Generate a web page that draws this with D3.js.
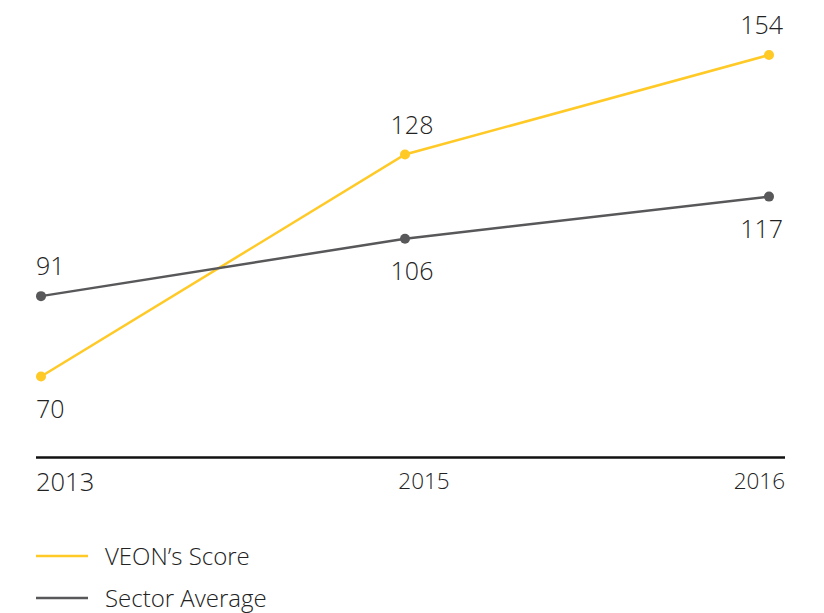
<!DOCTYPE html>
<html>
<head>
<meta charset="utf-8">
<script src="https://d3js.org/d3.v7.min.js"></script>
<style>
  body { margin: 0; background: #fff; }
  text { font-family: "Open Sans", sans-serif; font-weight: 300; fill: #222; }
</style>
</head>
<body>
<svg id="chart" width="824" height="613"></svg>
<script>
// data
const years = ["2013", "2015", "2016"];
const veonScore = [70, 128, 154];
const sectorAvg = [91, 106, 117];
const seriesNames = ["VEON\u2019s Score", "Sector Average"];
const seriesColors = ["#FFC926", "#58585A"];
// where each series puts its value labels (above / below the dot)
const veonLabelSide = ["below", "above", "above"];
const sectorLabelSide = ["above", "below", "below"];

const svg = d3.select("#chart");

const xs = d3.scalePoint().domain(years).range([41, 769]);
const ys = d3.scaleLinear().domain([70, 154]).range([376.5, 55]);

// bottom axis line
svg.append("line")
  .attr("x1", 36).attr("x2", 785)
  .attr("y1", 457.5).attr("y2", 457.5)
  .attr("stroke", "#111")
  .attr("stroke-width", 2.5);

// year labels: first pinned left, last pinned right
const tickAnchor = ["start", "middle", "end"];
const tickDx = [-5, 19, 16];
const tickSize = [25.5, 22.5, 22.5];
svg.append("g").selectAll("text")
  .data(years)
  .enter().append("text")
  .attr("x", (d, i) => xs(d) + tickDx[i])
  .attr("y", (d, i) => i == 0 ? 491 : 489)
  .attr("text-anchor", (d, i) => tickAnchor[i])
  .style("font-size", (d, i) => tickSize[i] + "px")
  .text(d => d);

const series = [
  { name: seriesNames[0], color: seriesColors[0], values: veonScore, sides: veonLabelSide },
  { name: seriesNames[1], color: seriesColors[1], values: sectorAvg, sides: sectorLabelSide }
];

const line = d3.line()
  .x((d, i) => xs(years[i]))
  .y(d => ys(d));

const labelAnchor = ["start", "middle", "end"];
const labelDx = [-5, 7, 14];

series.forEach(s => {
  const g = svg.append("g");
  g.append("path")
    .attr("d", line(s.values))
    .attr("fill", "none")
    .attr("stroke", s.color)
    .attr("stroke-width", 2.5);

  g.selectAll("circle")
    .data(s.values)
    .enter().append("circle")
    .attr("cx", (d, i) => xs(years[i]))
    .attr("cy", d => ys(d))
    .attr("r", 5)
    .attr("fill", s.color);

  g.selectAll("text")
    .data(s.values)
    .enter().append("text")
    .attr("x", (d, i) => xs(years[i]) + labelDx[i])
    .attr("y", (d, i) => ys(d) + (s.sides[i] == "above" ? -21 : 41))
    .attr("text-anchor", (d, i) => labelAnchor[i])
    .style("font-size", "25px")
    .text(d => d);
});

// legend
const legend = svg.append("g").selectAll("g")
  .data(series)
  .enter().append("g")
  .attr("transform", (d, i) => "translate(36," + (556 + i * 42) + ")");

legend.append("line")
  .attr("x1", 0).attr("x2", 52)
  .attr("stroke", d => d.color)
  .attr("stroke-width", 2.5);

legend.append("text")
  .attr("x", 69)
  .attr("y", 9)
  .style("font-size", "24px")
  .text(d => d.name);
</script>
</body>
</html>
